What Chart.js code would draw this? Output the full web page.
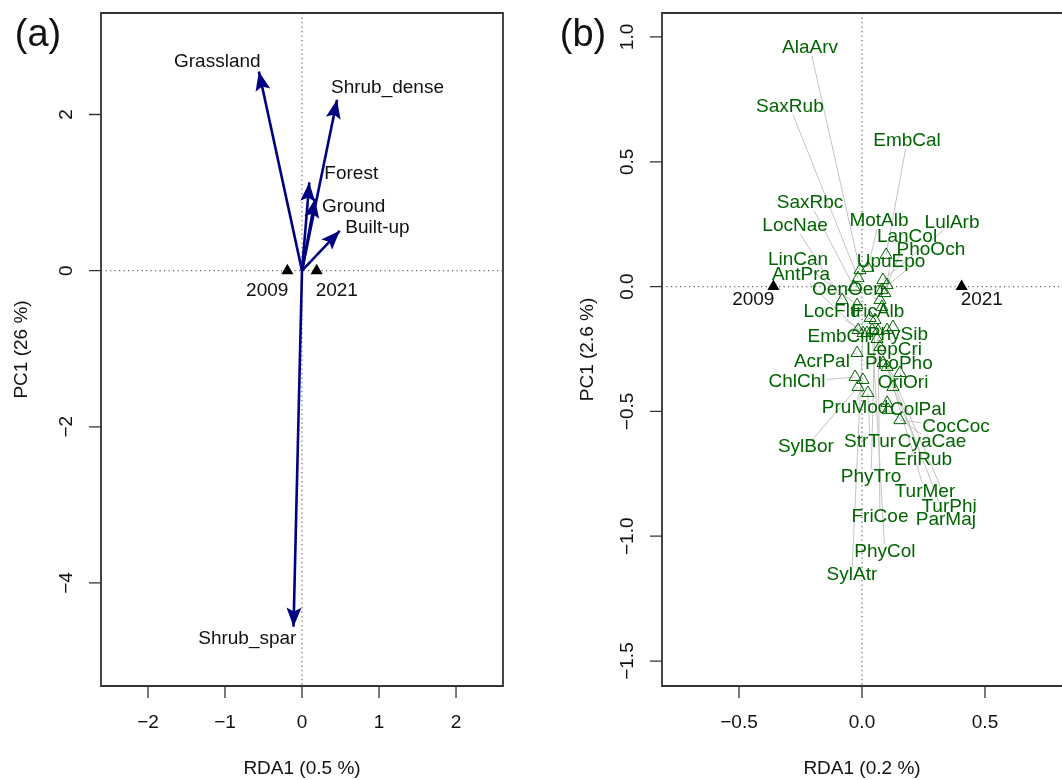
<!DOCTYPE html>
<html>
<head>
<meta charset="utf-8">
<script src="https://cdn.jsdelivr.net/npm/chart.js@4.4.1/dist/chart.umd.min.js"></script>
<style>
  html, body { margin: 0; padding: 0; background: #fff; overflow: hidden; }
  #wrap { position: relative; width: 1062px; height: 780px; }
  canvas { position: absolute; top: 0; }
  #left { left: 0; }
  #right { left: 531px; }
</style>
</head>
<body>
<div id="wrap">
  <canvas id="left" width="531" height="780"></canvas>
  <canvas id="right" width="531" height="780"></canvas>
</div>
<script>
// ----- Panel (a): land cover arrows -----
const envNames = ["Grassland", "Shrub_dense", "Forest", "Ground", "Built-up", "Shrub_spar"]
const envX = [-0.56, 0.455, 0.095, 0.17, 0.49, -0.11]
const envY = [2.55, 2.19, 1.13, 0.92, 0.51, -4.56]
const envLabelX = [-1.10, 1.11, 0.64, 0.67, 0.98, -0.71]
const envLabelY = [2.68, 2.34, 1.24, 0.82, 0.55, -4.71]

// year centroids
const years = ["2009", "2021"]
const yearXa = [-0.19, 0.19]
const yearXb = [-0.36, 0.405]

// ----- Panel (b): species -----
const species = ["AlaArv", "SaxRub", "EmbCal", "SaxRbc", "LocNae", "MotAlb", "LulArb", "LanCol", "PhoOch",
  "LinCan", "UpuEpo", "AntPra", "OenOen", "LocFlu", "FicAlb", "EmbCir", "PhySib", "LopCri", "AcrPal",
  "PhoPho", "ChlChl", "OriOri", "PruMod", "ColPal", "CocCoc", "SylBor", "StrTur", "CyaCae", "EriRub",
  "PhyTro", "TurMer", "TurPhi", "FriCoe", "ParMaj", "PhyCol", "SylAtr"]
const spX = [-0.008, -0.016, 0.098, -0.033, -0.081, 0.024, 0.085, 0.102, 0.081,
  -0.020, 0.093, -0.016, 0.073, 0.020, 0.081, 0.033, 0.126, 0.102, -0.020,
  0.085, -0.028, 0.154, 0.004, 0.102, 0.154, -0.016, 0.024, 0.106, 0.126,
  0.053, 0.102, 0.073, 0.065, 0.061, 0.041, 0.004]
const spY = [0.066, 0.034, 0.127, -0.001, -0.054, 0.075, 0.026, 0.006, -0.014,
  -0.074, -0.026, -0.174, -0.054, -0.186, -0.082, -0.126, -0.162, -0.174, -0.266,
  -0.306, -0.362, -0.346, -0.374, -0.466, -0.535, -0.402, -0.426, -0.494, -0.402,
  -0.134, -0.322, -0.242, -0.178, -0.210, -0.174, -0.186]
const spLabelX = [-0.211, -0.293, 0.183, -0.211, -0.272, 0.069, 0.366, 0.183, 0.280,
  -0.260, 0.118, -0.248, -0.057, -0.122, 0.065, -0.093, 0.146, 0.130, -0.163,
  0.150, -0.264, 0.167, -0.028, 0.228, 0.382, -0.228, 0.033, 0.285, 0.248,
  0.037, 0.256, 0.354, 0.073, 0.341, 0.093, -0.041]
const spLabelY = [0.956, 0.720, 0.583, 0.335, 0.243, 0.263, 0.255, 0.199, 0.147,
  0.107, 0.099, 0.046, -0.014, -0.102, -0.102, -0.202, -0.194, -0.254, -0.302,
  -0.310, -0.382, -0.386, -0.487, -0.494, -0.563, -0.643, -0.623, -0.623, -0.695,
  -0.763, -0.823, -0.880, -0.924, -0.936, -1.063, -1.155]

// axis ticks
const ticksAX = [-2, -1, 0, 1, 2]
const ticksAY = [-4, -2, 0, 2]
const ticksBX = [-0.5, 0, 0.5]
const ticksBY = [-1.5, -1, -0.5, 0, 0.5, 1]

const FONT = '"Liberation Sans", Arial, Helvetica, sans-serif'
const NAVY = "#000080"
const GREEN = "#006400"

const fmt = (v, d) => v.toFixed(d).replace("-", "\u2212")

// R-like axes: box, outward ticks, rotated y labels, titles, zero lines
const rAxes = {
  id: "rAxes",
  beforeDatasetsDraw(chart, args, o) {
    const { ctx, chartArea: a, scales: { x, y } } = chart
    const x0 = x.getPixelForValue(0), y0 = y.getPixelForValue(0)
    ctx.save()
    ctx.strokeStyle = "#666"
    ctx.lineWidth = 1.2
    ctx.setLineDash([1.2, 3.3])
    ctx.beginPath()
    ctx.moveTo(x0, a.top); ctx.lineTo(x0, a.bottom)
    ctx.moveTo(a.left, y0); ctx.lineTo(a.right, y0)
    ctx.stroke()
    ctx.restore()
  },
  afterDraw(chart, args, o) {
    const { ctx, chartArea: a, scales: { x, y } } = chart
    ctx.save()
    ctx.strokeStyle = "#333"
    ctx.lineWidth = 1.8
    ctx.beginPath()
    if (o.rightBorder) {
      ctx.rect(a.left, a.top, a.right - a.left, a.bottom - a.top)
    } else {
      ctx.moveTo(a.right + 2, a.top); ctx.lineTo(a.left, a.top)
      ctx.lineTo(a.left, a.bottom); ctx.lineTo(a.right + 2, a.bottom)
    }
    ctx.stroke()

    ctx.fillStyle = "#111"
    ctx.font = "19px " + FONT
    ctx.textAlign = "center"
    ctx.textBaseline = "middle"
    ctx.lineWidth = 1.3
    ctx.beginPath()
    o.xTicks.forEach(v => {
      const px = x.getPixelForValue(v)
      ctx.moveTo(px, a.bottom); ctx.lineTo(px, a.bottom + 12)
    })
    o.yTicks.forEach(v => {
      const py = y.getPixelForValue(v)
      ctx.moveTo(a.left, py); ctx.lineTo(a.left - 12, py)
    })
    ctx.stroke()
    o.xTicks.forEach(v => ctx.fillText(fmt(v, o.dec), x.getPixelForValue(v), a.bottom + 37))
    o.yTicks.forEach(v => {
      ctx.save()
      ctx.translate(a.left - 34, y.getPixelForValue(v))
      ctx.rotate(-Math.PI / 2)
      ctx.fillText(fmt(v, o.dec), 0, 0)
      ctx.restore()
    })
    // titles
    ctx.fillText(o.xTitle, x.getPixelForValue(0), a.bottom + 83)
    ctx.save()
    ctx.translate(a.left - o.yTitleGap, (a.top + a.bottom) / 2)
    ctx.rotate(-Math.PI / 2)
    ctx.fillText(o.yTitle, 0, 0)
    ctx.restore()
    // panel tag
    ctx.font = "38px " + FONT
    ctx.fillText(o.tag, o.tagX, o.tagY)
    ctx.restore()
  }
}

// year labels under the centroid triangles
function drawYears(chart, xs, dy) {
  const { ctx, scales: { x, y } } = chart
  const y0 = y.getPixelForValue(0) + dy
  ctx.save()
  ctx.fillStyle = "#111"
  ctx.font = "19px " + FONT
  ctx.textBaseline = "middle"
  ctx.textAlign = "right"
  ctx.fillText(years[0], x.getPixelForValue(xs[0]) + 1, y0)
  ctx.textAlign = "left"
  ctx.fillText(years[1], x.getPixelForValue(xs[1]) - 1, y0)
  ctx.restore()
}

const envPlugin = {
  id: "envPlugin",
  afterDatasetsDraw(chart) {
    const { ctx, scales: { x, y } } = chart
    const ox = x.getPixelForValue(0), oy = y.getPixelForValue(0)
    ctx.save()
    ctx.fillStyle = NAVY
    envNames.forEach((n, i) => {
      const tx = x.getPixelForValue(envX[i]), ty = y.getPixelForValue(envY[i])
      const ang = Math.atan2(ty - oy, tx - ox)
      const len = 19, hw = 7.5
      const bx = tx - Math.cos(ang) * len, by = ty - Math.sin(ang) * len
      ctx.beginPath()
      ctx.moveTo(tx, ty)
      ctx.lineTo(bx - Math.sin(ang) * hw, by + Math.cos(ang) * hw)
      ctx.lineTo(tx - Math.cos(ang) * len * 0.8, ty - Math.sin(ang) * len * 0.8)
      ctx.lineTo(bx + Math.sin(ang) * hw, by - Math.cos(ang) * hw)
      ctx.closePath()
      ctx.fill()
    })
    ctx.fillStyle = "#111"
    ctx.font = "19px " + FONT
    ctx.textAlign = "center"
    ctx.textBaseline = "middle"
    envNames.forEach((n, i) => {
      ctx.fillText(n, x.getPixelForValue(envLabelX[i]), y.getPixelForValue(envLabelY[i]))
    })
    ctx.restore()
    drawYears(chart, yearXa, 20)
  }
}

const spPlugin = {
  id: "spPlugin",
  beforeDatasetsDraw(chart) {
    const { ctx, scales: { x, y } } = chart
    ctx.save()
    ctx.font = "19px " + FONT
    ctx.strokeStyle = "#c4c4c4"
    ctx.lineWidth = 1
    species.forEach((n, i) => {
      const px = x.getPixelForValue(spX[i]), py = y.getPixelForValue(spY[i])
      const cx = x.getPixelForValue(spLabelX[i]), cy = y.getPixelForValue(spLabelY[i])
      const hw = ctx.measureText(n).width / 2 + 1, hh = 8
      const dx = cx - px, dy = cy - py
      const s = Math.min(dx ? hw / Math.abs(dx) : Infinity, dy ? hh / Math.abs(dy) : Infinity)
      if (s >= 1) return
      ctx.beginPath()
      ctx.moveTo(px, py)
      ctx.lineTo(cx - dx * s, cy - dy * s)
      ctx.stroke()
    })
    ctx.restore()
  },
  afterDatasetsDraw(chart) {
    const { ctx, scales: { x, y } } = chart
    ctx.save()
    ctx.fillStyle = GREEN
    ctx.font = "19px " + FONT
    ctx.textAlign = "center"
    ctx.textBaseline = "middle"
    species.forEach((n, i) => {
      ctx.fillText(n, x.getPixelForValue(spLabelX[i]), y.getPixelForValue(spLabelY[i]))
    })
    ctx.restore()
    drawYears(chart, yearXb, 13)
  }
}

const baseOpts = (xr, yr, pad, axes) => ({
  responsive: false,
  animation: false,
  devicePixelRatio: 1,
  layout: { padding: pad, autoPadding: false },
  scales: {
    x: { type: "linear", min: xr[0], max: xr[1], display: false },
    y: { type: "linear", min: yr[0], max: yr[1], display: false }
  },
  plugins: { legend: { display: false }, tooltip: { enabled: false }, rAxes: axes }
})

const yearPoints = xs => xs.map(v => ({ x: v, y: 0 }))

// ----- Chart (a) -----
new Chart(document.getElementById("left"), {
  type: "scatter",
  data: {
    datasets: [
      ...envNames.map((n, i) => ({
        label: n,
        data: [{ x: 0, y: 0 }, { x: envX[i], y: envY[i] }],
        showLine: true,
        borderColor: NAVY,
        borderWidth: 2.6,
        pointRadius: 0
      })),
      {
        label: "years",
        data: yearPoints(yearXa),
        pointStyle: "triangle",
        pointRadius: 7,
        backgroundColor: "#000",
        borderColor: "#000",
        borderWidth: 0
      }
    ]
  },
  options: baseOpts([-2.61, 2.61], [-5.32, 3.30], { left: 101, right: 28, top: 13, bottom: 94 }, {
    xTicks: ticksAX, yTicks: ticksAY, dec: 0, rightBorder: true,
    xTitle: "RDA1 (0.5 %)", yTitle: "PC1 (26 %)", yTitleGap: 79,
    tag: "(a)", tagX: 38, tagY: 36
  }),
  plugins: [rAxes, envPlugin]
})

// ----- Chart (b) -----
new Chart(document.getElementById("right"), {
  type: "scatter",
  data: {
    datasets: [
      {
        label: "species",
        data: species.map((n, i) => ({ x: spX[i], y: spY[i] })),
        pointStyle: "triangle",
        pointRadius: 7,
        backgroundColor: "rgba(0,0,0,0)",
        borderColor: GREEN,
        borderWidth: 1
      },
      {
        label: "years",
        data: yearPoints(yearXb),
        pointStyle: "triangle",
        pointRadius: 7,
        backgroundColor: "#000",
        borderColor: "#000",
        borderWidth: 0
      }
    ]
  },
  options: baseOpts([-0.813, 0.813], [-1.60, 1.096], { left: 131, right: 0, top: 13, bottom: 94 }, {
    xTicks: ticksBX, yTicks: ticksBY, dec: 1, rightBorder: false,
    xTitle: "RDA1 (0.2 %)", yTitle: "PC1 (2.6 %)", yTitleGap: 74,
    tag: "(b)", tagX: 52, tagY: 36
  }),
  plugins: [rAxes, spPlugin]
})
</script>
</body>
</html>
